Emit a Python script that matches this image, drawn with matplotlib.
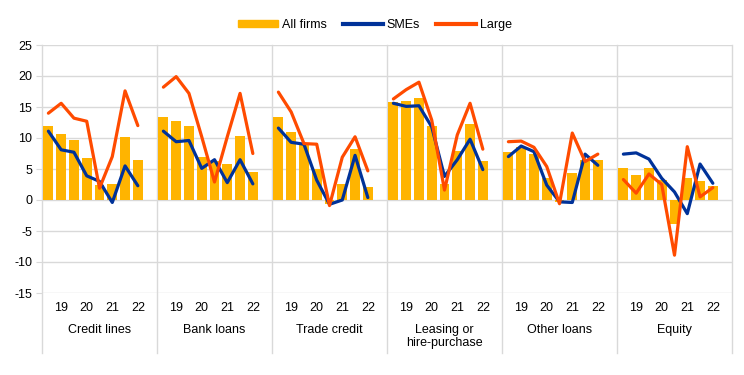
import numpy as np
import matplotlib
matplotlib.use('Agg')
import matplotlib.pyplot as plt
from matplotlib.lines import Line2D
from matplotlib.patches import Patch

plt.rcParams['font.family'] = ['Liberation Sans', 'DejaVu Sans']
plt.rcParams['axes.unicode_minus'] = False

# ---- data ----
categories = ['Credit lines', 'Bank loans', 'Trade credit',
              'Leasing or\nhire-purchase', 'Other loans', 'Equity']
year_labels = ['19', '20', '21', '22']
year_idx = [1, 3, 5, 7]

all_firms = [
    [12.0, 10.6, 9.6, 6.8, 2.5, 2.6, 10.1, 6.5],
    [13.4, 12.8, 12.0, 7.0, 6.3, 5.8, 10.3, 4.5],
    [13.4, 10.9, 8.9, 5.0, -0.7, 2.6, 8.3, 2.1],
    [15.8, 16.0, 16.5, 11.9, 2.6, 7.9, 12.2, 6.3],
    [7.8, 8.6, 7.5, 3.5, -0.4, 4.3, 6.5, 6.5],
    [5.1, 4.1, 5.2, 3.2, -3.8, 3.5, 3.0, 2.3],
]
smes = [
    [11.1, 8.1, 7.7, 3.9, 3.0, -0.4, 5.5, 2.3],
    [11.1, 9.4, 9.6, 5.1, 6.5, 2.8, 6.5, 2.6],
    [11.6, 9.3, 9.0, 3.2, -0.7, 0.0, 7.2, 0.4],
    [15.6, 15.1, 15.2, 11.8, 3.8, 6.5, 9.8, 4.9],
    [7.0, 8.7, 7.8, 2.4, -0.3, -0.4, 7.4, 5.6],
    [7.4, 7.6, 6.6, 3.5, 1.3, -2.2, 5.8, 2.7],
]
large = [
    [14.0, 15.6, 13.2, 12.7, 1.9, 7.0, 17.6, 12.0],
    [18.2, 19.9, 17.2, 10.2, 2.9, 10.2, 17.2, 7.5],
    [17.4, 14.2, 9.1, 9.0, -0.9, 6.9, 10.2, 4.7],
    [16.3, 17.8, 19.0, 12.9, 1.6, 10.5, 15.6, 8.2],
    [9.4, 9.5, 8.5, 5.4, -0.6, 10.8, 6.2, 7.4],
    [3.3, 1.1, 4.2, 2.5, -8.9, 8.6, 0.5, 2.0],
]

c_bar = '#ffb400'
c_sme = '#003299'
c_large = '#ff4b00'
c_grid = '#d9d9d9'

W, H = 744, 375
fig = plt.figure(figsize=(W / 100, H / 100), dpi=100)
ax = fig.add_axes([42 / W, (H - 293) / H, (732 - 42) / W, (293 - 45) / H])

slots = 9
for g in range(len(categories)):
    x = g * slots + np.arange(8) + 0.5
    ax.bar(x, all_firms[g], width=0.78, color=c_bar, zorder=2)
    ax.plot(x, smes[g], color=c_sme, lw=2.3, zorder=3, solid_capstyle='round')
    ax.plot(x, large[g], color=c_large, lw=2.3, zorder=4, solid_capstyle='round')
    for i, lbl in zip(year_idx, year_labels):
        ax.text(x[i], -0.06, lbl, transform=ax.get_xaxis_transform(),
                ha='center', va='center', fontsize=9)
    ax.text(g * slots + 4.5, -0.125, categories[g], transform=ax.get_xaxis_transform(),
            ha='center', va='top', fontsize=9, linespacing=1.15)

# separators running into the label area
for g in range(len(categories) + 1):
    ax.plot([g * slots, g * slots], [1.0, -0.24], transform=ax.get_xaxis_transform(),
            color=c_grid, lw=1.0, clip_on=False, zorder=1)

ax.set_xlim(0, slots * len(categories))
ax.set_ylim(-15, 25)
ax.set_yticks(np.arange(-15, 26, 5))
ax.yaxis.grid(True, color=c_grid, lw=1.0, zorder=0)
ax.set_axisbelow(True)
ax.set_xticks([])
ax.tick_params(axis='y', length=4, color=c_grid, labelsize=9, pad=3)
for s in ax.spines.values():
    s.set_visible(False)

handles = [Patch(color=c_bar), Line2D([], [], color=c_sme, lw=3),
           Line2D([], [], color=c_large, lw=3)]
fig.legend(handles, ['All firms', 'SMEs', 'Large'], loc='center',
           bbox_to_anchor=(375 / W, 1 - 25 / H), ncol=3, frameon=False,
           fontsize=9, handlelength=3.2, handleheight=0.5, columnspacing=1.3,
           handletextpad=0.3)

fig.savefig('out.png', dpi=100)
